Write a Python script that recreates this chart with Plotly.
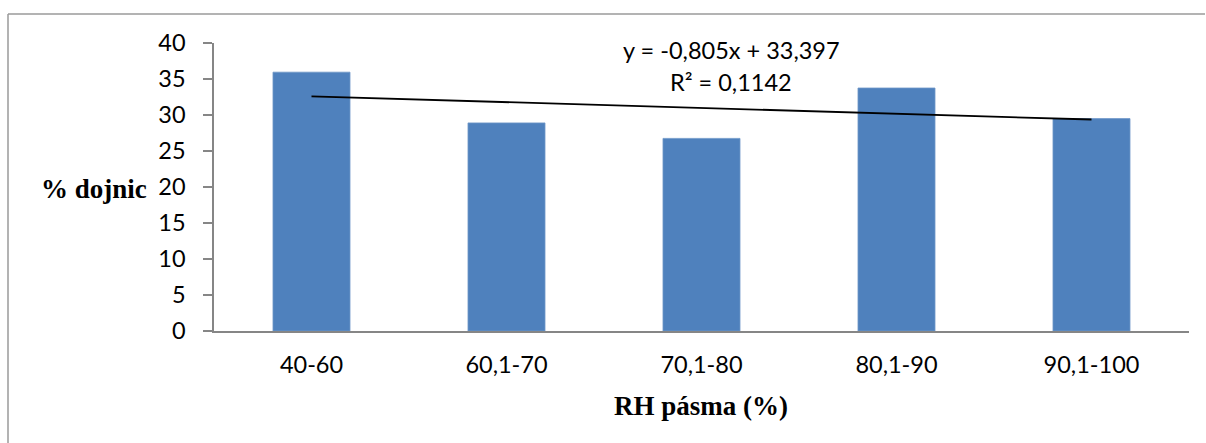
import plotly.graph_objects as go

# Relative-humidity bands and share of cows (%) in each band
categories = ["40-60", "60,1-70", "70,1-80", "80,1-90", "90,1-100"]
cows_pct = [35.95, 28.9, 26.75, 33.75, 29.5]

# Linear trend reported for the series (x = 1..n)
slope = -0.805
intercept = 33.397
r_squared = 0.1142

y_ticks = [0, 5, 10, 15, 20, 25, 30, 35, 40]

W, H = 1206, 443
L, R, T, B = 214, 17, 43, 112
PW, PH = W - L - R, H - T - B


def px(x):
    """Horizontal pixel -> paper coordinate."""
    return (x - L) / PW


def py(y):
    """Vertical pixel (from top) -> paper coordinate."""
    return ((H - B) - y) / PH


tick_font = dict(family="Lato, Open Sans, sans-serif", size=23.5, color="#000000")
title_font = dict(family="Liberation Serif, Times New Roman, serif", size=27, color="#000000")
axis_grey = "#868686"

trend_y = [slope * (i + 1) + intercept for i in range(len(categories))]

fig = go.Figure()
fig.add_trace(go.Bar(
    x=categories, y=cows_pct,
    marker=dict(color="#4F81BD", line=dict(color="#6F97C8", width=0.8)),
    hoverinfo="x+y",
))
fig.add_trace(go.Scatter(
    x=[categories[0], categories[-1]], y=[trend_y[0], trend_y[-1]],
    mode="lines", line=dict(color="#000000", width=1.8),
    hoverinfo="skip",
))

# Chart-area frame: top and left edges as two separate segments
fig.update_layout(
    width=W, height=H,
    margin=dict(l=L, r=R, t=T, b=B, pad=0),
    paper_bgcolor="#ffffff", plot_bgcolor="#ffffff",
    showlegend=False,
    bargap=0.605,
    xaxis=dict(
        showline=True, linecolor=axis_grey, linewidth=1.5,
        ticks="", showgrid=False, zeroline=False,
        tickfont=tick_font, ticklabelstandoff=12,
    ),
    yaxis=dict(
        range=[0, 40], tickvals=y_ticks,
        showline=True, linecolor=axis_grey, linewidth=1.5,
        ticks="outside", ticklen=9, tickcolor=axis_grey, tickwidth=1.5,
        showgrid=False, zeroline=False,
        tickfont=tick_font, ticklabelstandoff=13,
    ),
    shapes=[
        dict(type="line", xref="paper", yref="paper",
             x0=px(8), x1=px(W - 1), y0=py(14), y1=py(14),
             line=dict(color="#9a9a9a", width=1.5), layer="below"),
        dict(type="line", xref="paper", yref="paper",
             x0=px(8), x1=px(8), y0=py(14), y1=py(H),
             line=dict(color="#9a9a9a", width=1.5), layer="below"),
    ],
    annotations=[
        dict(text=f"y = {slope:.3f}x + {intercept:.3f}".replace(".", ","),
             xref="paper", yref="paper", x=px(731), y=py(50),
             xanchor="center", yanchor="middle", showarrow=False, font=tick_font),
        dict(text=f"R² = {r_squared:.4f}".replace(".", ","),
             xref="paper", yref="paper", x=px(731), y=py(82),
             xanchor="center", yanchor="middle", showarrow=False, font=tick_font),
        dict(text="<b>% dojnic</b>", xref="paper", yref="paper",
             x=px(149), y=py(189),
             xanchor="right", yanchor="middle", showarrow=False, font=title_font),
        dict(text="<b>RH pásma (%)</b>", xref="paper", yref="paper",
             x=px(701), y=py(406),
             xanchor="center", yanchor="middle", showarrow=False, font=title_font),
    ],
)

fig.write_html("out.html")
